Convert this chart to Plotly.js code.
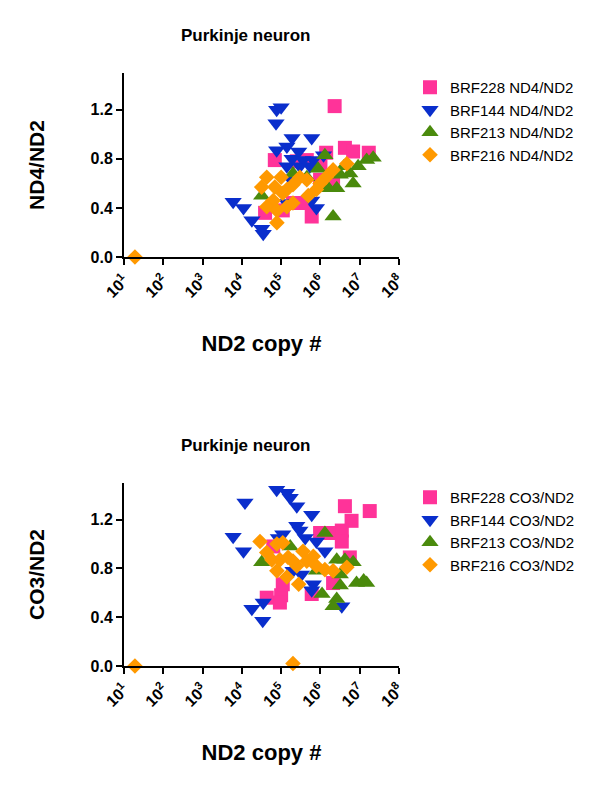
<!DOCTYPE html>
<html>
<head>
<meta charset="utf-8">
<script src="https://cdn.plot.ly/plotly-3.0.1.min.js"></script>
<style>html,body{margin:0;padding:0;background:#fff;}#chart{width:600px;height:794px;}</style>
</head>
<body>
<div id="chart"></div>
<script>
// ---- Top panel: ND4/ND2 vs ND2 copy # ----
const nd4_228_x = [2.3e6,4.2e6,6.8e6,1.7e7,6.9e4,1.4e6,4.5e5,4.1e5,6.0e5,3.9e4,1.1e5,2.0e5,9.8e5,2.1e6,2.5e5,1.0e6];
const nd4_228_y = [1.23,0.89,0.86,0.85,0.79,0.85,0.79,0.44,0.33,0.36,0.38,0.44,0.63,0.60,0.78,0.75];
const nd4_144_x = [7.7e4,1.0e5,7.4e4,1.9e5,6.0e5,7.7e4,1.4e5,2.8e5,1.9e5,3.6e5,6.6e5,1.2e6,1.4e5,3.0e5,5.4e5,1.7e5,6.0e3,1.1e4,1.8e4,3.2e4,3.5e4,7.9e5,6.0e5,1.4e5];
const nd4_144_y = [1.20,1.22,1.09,0.97,0.97,0.87,0.90,0.86,0.80,0.79,0.79,0.83,0.74,0.74,0.74,0.64,0.45,0.40,0.30,0.23,0.19,0.40,0.46,0.44];
const nd4_213_x = [3.2e4,2.1e6,1.3e6,1.5e7,9.1e6,5.6e6,3.2e6,6.8e6,2.6e6,1.6e6,8.7e5,4.5e5,2.0e5,2.2e7,4.0e6];
const nd4_213_y = [0.50,0.33,0.83,0.79,0.74,0.68,0.67,0.60,0.56,0.56,0.72,0.65,0.68,0.81,0.74];
const nd4_216_x = [19,4.7e6,2.1e6,1.4e6,9.8e5,7.9e5,4.9e5,3.0e5,4.5e5,2.0e5,1.4e5,1.0e5,4.3e4,3.2e4,6.9e4,6.3e4,4.3e4,7.8e4,1.4e5,2.0e5,7.8e4,1.1e5];
const nd4_216_y = [0.0,0.76,0.71,0.65,0.60,0.55,0.50,0.65,0.63,0.59,0.55,0.65,0.65,0.57,0.57,0.46,0.41,0.38,0.41,0.44,0.28,0.52];

// ---- Bottom panel: CO3/ND2 vs ND2 copy # ----
const co3_228_x = [4.2e6,1.8e7,6.2e6,3.5e6,9.8e5,1.6e6,3.5e6,5.6e6,2.1e6,6.0e5,1.0e5,9.3e4,4.3e4,6.3e4,1.1e5];
const co3_228_y = [1.31,1.27,1.19,1.11,1.09,1.09,1.02,0.89,0.68,0.59,0.58,0.52,0.56,0.98,0.67];
const co3_144_x = [7.7e4,1.4e5,1.7e5,2.5e5,1.2e4,6.0e5,6.0e3,1.1e4,1.1e5,2.5e5,3.0e5,4.1e5,8.5e4,7.9e5,1.3e6,2.0e5,3.3e5,6.6e5,6.0e5,1.8e4,3.5e4,3.4e4,3.5e6];
const co3_144_y = [1.445,1.42,1.38,1.31,1.34,1.24,1.06,0.94,1.08,1.15,1.11,1.05,1.05,1.02,0.94,0.78,0.75,0.67,0.62,0.47,0.52,0.37,0.49];
const co3_213_x = [1.3e6,3.2e4,2.6e6,4.2e6,6.8e6,8.3e6,1.5e7,3.2e6,3.2e6,1.1e6,2.6e6,2.1e6,1.7e5,7.9e5,1.26e7];
const co3_213_y = [1.09,0.85,0.87,0.87,0.85,0.68,0.68,0.75,0.66,0.59,0.55,0.49,0.98,0.78,0.70];
const co3_216_x = [19,2.0e5,2.9e4,4.3e4,7.8e4,1.1e5,5.8e4,9.3e4,1.5e5,7.8e4,1.4e5,2.5e5,3.6e5,4.5e5,6.6e5,7.9e5,1.3e6,2.1e6,4.7e6,2.8e5,2.0e5];
const co3_216_y = [0.0,0.02,1.02,0.93,1.00,1.01,0.87,0.87,0.89,0.78,0.73,0.82,0.94,0.86,0.90,0.82,0.79,0.78,0.81,0.67,0.86];

const xTickVals = [1e1,1e2,1e3,1e4,1e5,1e6,1e7,1e8];
const xTickText = ['10<sup>1</sup>','10<sup>2</sup>','10<sup>3</sup>','10<sup>4</sup>','10<sup>5</sup>','10<sup>6</sup>','10<sup>7</sup>','10<sup>8</sup>'];
const yTickVals = [0,0.4,0.8,1.2];
const yTickText = ['0.0','0.4','0.8','1.2'];

const COL = {pink:'#ff3399', blue:'#0a2ecc', green:'#4a8a0c', orange:'#ff9900'};
const FONT = 'Liberation Sans, Arial, Helvetica, sans-serif';

function tr(name, x, y, color, symbol, size, xa, ya, lg){
  return {type:'scatter', mode:'markers', name:name, x:x, y:y, xaxis:xa, yaxis:ya, legend:lg,
    cliponaxis:false, marker:{color:color, symbol:symbol, size:size, line:{width:0}}};
}

const data = [
  tr('BRF228 ND4/ND2', nd4_228_x, nd4_228_y, COL.pink, 'square', 14, 'x', 'y', 'legend'),
  tr('BRF144 ND4/ND2', nd4_144_x, nd4_144_y, COL.blue, 'triangle-down', 15, 'x', 'y', 'legend'),
  tr('BRF213 ND4/ND2', nd4_213_x, nd4_213_y, COL.green, 'triangle-up', 15, 'x', 'y', 'legend'),
  tr('BRF216 ND4/ND2', nd4_216_x, nd4_216_y, COL.orange, 'diamond', 12, 'x', 'y', 'legend'),
  tr('BRF228 CO3/ND2', co3_228_x, co3_228_y, COL.pink, 'square', 14, 'x2', 'y2', 'legend2'),
  tr('BRF144 CO3/ND2', co3_144_x, co3_144_y, COL.blue, 'triangle-down', 15, 'x2', 'y2', 'legend2'),
  tr('BRF213 CO3/ND2', co3_213_x, co3_213_y, COL.green, 'triangle-up', 15, 'x2', 'y2', 'legend2'),
  tr('BRF216 CO3/ND2', co3_216_x, co3_216_y, COL.orange, 'diamond', 12, 'x2', 'y2', 'legend2')
];

const W = 600, H = 794;
function xAxis(anchor){
  return {type:'log', range:[1,8], domain:[124/W, 399/W], anchor:anchor,
    showline:true, linecolor:'#000', linewidth:2, mirror:false, showgrid:false, zeroline:false,
    ticks:'outside', ticklen:6, tickwidth:2, tickcolor:'#000',
    tickmode:'array', tickvals:xTickVals, ticktext:xTickText, tickangle:-45,
    tickfont:{family:FONT, size:16, color:'#000', weight:'bold'},
    title:{text:'ND2 copy #', font:{family:FONT, size:22, color:'#000', weight:'bold'}, standoff:36}};
}
function yAxis(anchor, d0, d1, title){
  return {range:[0,1.5], domain:[1-d1/H, 1-d0/H], anchor:anchor,
    showline:true, linecolor:'#000', linewidth:2, showgrid:false, zeroline:false,
    ticks:'outside', ticklen:6, tickwidth:2, tickcolor:'#000',
    tickmode:'array', tickvals:yTickVals, ticktext:yTickText,
    tickfont:{family:FONT, size:16, color:'#000', weight:'bold'},
    title:{text:title, font:{family:FONT, size:21, color:'#000', weight:'bold'}, standoff:40}};
}

const legendBase = {xanchor:'left', yanchor:'top', bgcolor:'rgba(0,0,0,0)', borderwidth:0,
  font:{family:FONT, size:15, color:'#000'}, itemsizing:'trace'};

const layout = {
  width:W, height:H, margin:{l:0, r:0, t:0, b:0}, paper_bgcolor:'#fff', plot_bgcolor:'#fff',
  showlegend:true,
  xaxis:xAxis('y'), yaxis:yAxis('x', 73, 257, 'ND4/ND2'),
  xaxis2:xAxis('y2'), yaxis2:yAxis('x2', 483, 666, 'CO3/ND2'),
  legend:Object.assign({x:410/W, y:1-71/H, tracegroupgap:0}, legendBase),
  legend2:Object.assign({x:410/W, y:1-481/H, tracegroupgap:0}, legendBase),
  annotations:[
    {text:'Purkinje neuron', xref:'paper', yref:'paper', x:245/W, y:1-36/H, showarrow:false,
     xanchor:'center', yanchor:'middle', font:{family:FONT, size:17, color:'#000', weight:'bold'}},
    {text:'Purkinje neuron', xref:'paper', yref:'paper', x:245/W, y:1-445/H, showarrow:false,
     xanchor:'center', yanchor:'middle', font:{family:FONT, size:17, color:'#000', weight:'bold'}}
  ]
};

Plotly.newPlot('chart', data, layout, {displayModeBar:false, staticPlot:true});
</script>
</body>
</html>
